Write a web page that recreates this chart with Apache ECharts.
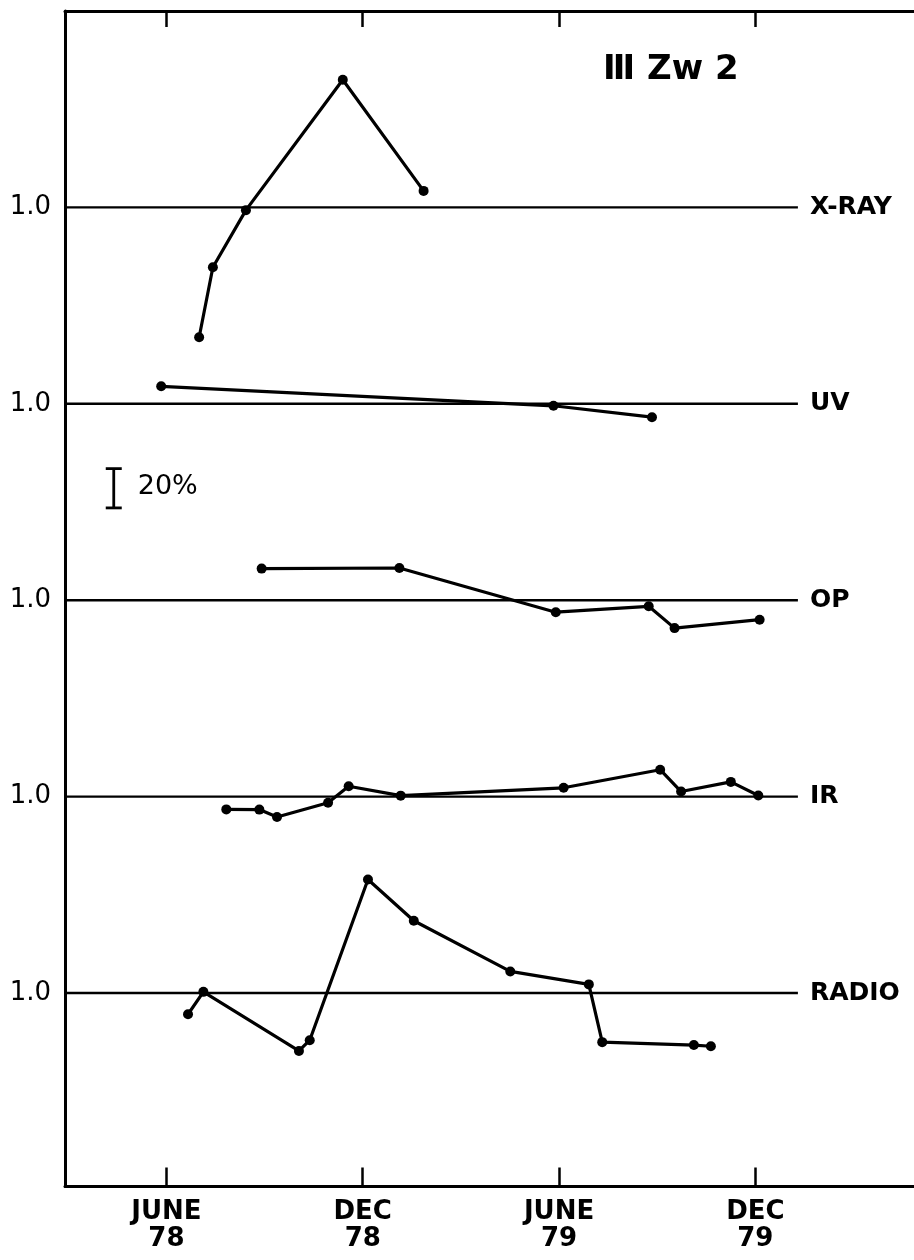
<!DOCTYPE html>
<html>
<head>
<meta charset="utf-8">
<style>
  html, body { margin: 0; padding: 0; background: #fff; }
  #chart { width: 914px; height: 1260px; }
</style>
<script src="https://cdn.jsdelivr.net/npm/echarts@6/dist/echarts.min.js"></script>
</head>
<body>
<div id="chart"></div>
<script>
// ---- Data (time in months: 6 = JUNE 78, 12 = DEC 78, 18 = JUNE 79, 24 = DEC 79) ----
const xTickValues = [6, 12, 18, 24];
const xTickLabels = ['JUNE\n78', 'DEC\n78', 'JUNE\n79', 'DEC\n79'];

const bandNames   = ['RADIO', 'IR', 'OP', 'UV', 'X-RAY'];
const bandOffsets = [0, 1, 2, 3, 4];
const yTickLabels = ['1.0', '1.0', '1.0', '1.0', '1.0'];

// relative flux (1.0 = mean level of each band)
const radioMonths = [6.66, 7.13, 10.05, 10.38, 12.16, 13.56, 16.51, 18.91, 19.32, 22.12, 22.64];
const radioFlux   = [0.892, 1.006, 0.705, 0.760, 1.578, 1.368, 1.110, 1.044, 0.750, 0.735, 0.729];

const irMonths = [7.83, 8.84, 9.38, 10.94, 11.57, 13.16, 18.14, 21.09, 21.73, 23.25, 24.09];
const irFlux   = [0.935, 0.934, 0.896, 0.969, 1.053, 1.005, 1.045, 1.137, 1.026, 1.075, 1.006];

const opMonths = [8.91, 13.12, 17.90, 20.74, 21.53, 24.13];
const opFlux   = [1.161, 1.164, 0.939, 0.969, 0.858, 0.901];

const uvMonths = [5.84, 17.83, 20.84];
const uvFlux   = [1.089, 0.990, 0.932];

const xrayMonths = [7.00, 7.42, 8.43, 11.39, 13.86];
const xrayFlux   = [0.339, 0.695, 0.986, 1.650, 1.084];

// 20% scale bar: [month, lower value, upper value]
const scaleBar = [[4.39, 2.47, 2.67]];
const scaleLabel = '20%';
const titleText = 'Ⅲ Zw 2';

// axis domain
const X_MIN = 2.9, X_MAX = 28.94, BASE_END = 25.3;
const Y_MIN = -0.985, Y_MAX = 5.0;

const bandMonths = [radioMonths, irMonths, opMonths, uvMonths, xrayMonths];
const bandFlux   = [radioFlux, irFlux, opFlux, uvFlux, xrayFlux];

const FONT = 'DejaVu Sans';
const series = [];

bandNames.forEach((name, b) => {
  const off = bandOffsets[b];
  series.push({
    name: name,
    type: 'line',
    data: [[X_MIN, off], [BASE_END, off]],
    symbol: 'none',
    silent: true,
    z: 2,
    lineStyle: { color: '#000', width: 2.4 },
    endLabel: {
      show: true, formatter: '{a}', distance: 12,
      color: '#000', fontFamily: FONT, fontSize: 25, fontWeight: 'bold'
    }
  });
  series.push({
    name: name + ' data',
    type: 'line',
    data: bandMonths[b].map((m, i) => [m, off + bandFlux[b][i] - 1]),
    symbol: 'circle',
    symbolSize: 10,
    z: 3,
    itemStyle: { color: '#000' },
    lineStyle: { color: '#000', width: 3.2 }
  });
});

series.push({
  type: 'custom',
  data: scaleBar,
  silent: true,
  renderItem: function (params, api) {
    const top = api.coord([api.value(0), api.value(2)]);
    const bot = api.coord([api.value(0), api.value(1)]);
    const s = { stroke: '#000', lineWidth: 2.8 };
    return {
      type: 'group',
      children: [
        { type: 'line', shape: { x1: top[0], y1: top[1], x2: bot[0], y2: bot[1] }, style: s },
        { type: 'line', shape: { x1: top[0] - 8, y1: top[1], x2: top[0] + 8, y2: top[1] }, style: s },
        { type: 'line', shape: { x1: bot[0] - 8, y1: bot[1], x2: bot[0] + 8, y2: bot[1] }, style: s },
        { type: 'text', style: {
            text: scaleLabel, x: top[0] + 24, y: (top[1] + bot[1]) / 2 - 1,
            textAlign: 'left', textVerticalAlign: 'middle',
            font: '27px ' + FONT, fill: '#000' } }
      ]
    };
  }
});

const chart = echarts.init(document.getElementById('chart'), null, { renderer: 'canvas' });
chart.setOption({
  animation: false,
  backgroundColor: '#fff',
  grid: { left: 65, right: -3, top: 11, bottom: 73.5, containLabel: false, outerBoundsMode: 'none' },
  xAxis: [
    {
      type: 'value', min: X_MIN, max: X_MAX, position: 'bottom',
      axisLine: { show: true, onZero: false, lineStyle: { color: '#000', width: 3 } },
      axisTick: { show: true, inside: true, length: 19, customValues: xTickValues,
                  lineStyle: { color: '#000', width: 2.5 } },
      axisLabel: {
        customValues: xTickValues,
        formatter: v => xTickLabels[xTickValues.indexOf(v)] || '',
        color: '#000', fontFamily: FONT, fontSize: 26, fontWeight: 'bold',
        lineHeight: 27, margin: 12
      },
      splitLine: { show: false }
    },
    {
      type: 'value', min: X_MIN, max: X_MAX, position: 'top',
      axisLine: { show: true, onZero: false, lineStyle: { color: '#000', width: 3 } },
      axisTick: { show: true, inside: true, length: 16, customValues: xTickValues,
                  lineStyle: { color: '#000', width: 2.5 } },
      axisLabel: { show: false },
      splitLine: { show: false }
    }
  ],
  yAxis: {
    type: 'value', min: Y_MIN, max: Y_MAX,
    axisLine: { show: true, onZero: false, lineStyle: { color: '#000', width: 3 } },
    axisTick: { show: false },
    splitLine: { show: false },
    axisLabel: {
      customValues: bandOffsets,
      formatter: v => yTickLabels[bandOffsets.indexOf(v)] || '',
      color: '#000', fontFamily: FONT, fontSize: 26, margin: 14
    }
  },
  graphic: [
    { type: 'text', left: 603, top: 53,
      style: { text: titleText, font: 'bold 34px ' + FONT, fill: '#000' } }
  ],
  series: series
});
</script>
</body>
</html>
